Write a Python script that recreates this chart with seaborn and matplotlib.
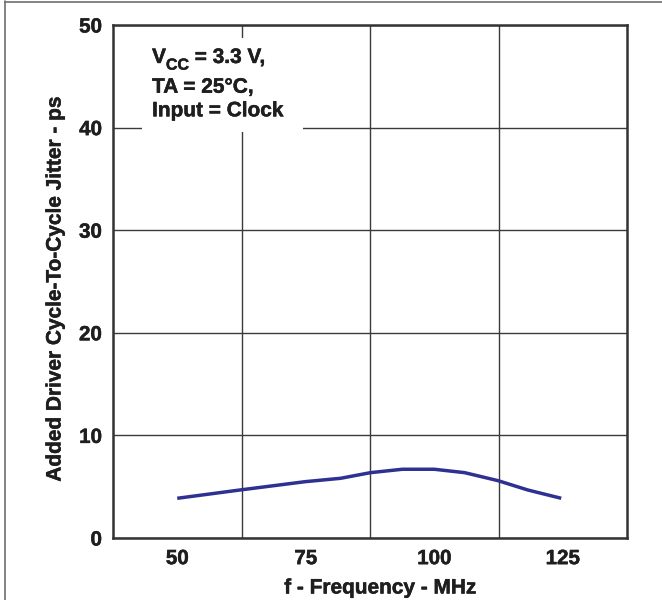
import matplotlib
matplotlib.use("Agg")
import matplotlib.pyplot as plt
from matplotlib.lines import Line2D
from matplotlib.patches import Rectangle
import matplotlib.patheffects as pe
import seaborn as sns
import pandas as pd

# Added jitter vs. clock frequency
freq_mhz = [50.0, 62.2, 74.9, 81.8, 87.6, 93.8, 100.0, 105.9, 112.4, 118.2, 124.7]
jitter_ps = [3.87, 4.68, 5.49, 5.82, 6.37, 6.70, 6.70, 6.37, 5.59, 4.68, 3.87]

x_ticks = [50, 75, 100, 125]
x_grid = [62.5, 87.5, 112.5]
y_ticks = [0, 10, 20, 30, 40, 50]

vcc_parts = ["V", "CC", " = 3.3 V,"]
conditions = ["TA = 25°C,", "Input = Clock"]

sns.set_theme(style="white")
plt.rcParams["font.family"] = ["Liberation Sans", "DejaVu Sans"]
plt.rcParams["font.weight"] = "bold"

ink = "#1e1e1e"
heavy = [pe.withStroke(linewidth=0.35, foreground=ink)]
df = pd.DataFrame({"f": freq_mhz, "j": jitter_ps})

W, H = 662, 600
fig = plt.figure(figsize=(W / 100, H / 100), dpi=100)
ax = fig.add_axes([113 / W, 62 / H, 514 / W, 513 / H])

sns.lineplot(data=df, x="f", y="j", ax=ax, color="#2e3192", linewidth=2.5,
             zorder=3, solid_capstyle="butt")

ax.set_xlim(37.5, 137.5)
ax.set_ylim(0, 50)
ax.set_xticks(x_ticks)
ax.set_yticks(y_ticks)
ax.set_xticks(x_grid, minor=True)
ax.tick_params(axis="both", which="both", length=0, labelsize=14.8,
               labelcolor=ink)
ax.tick_params(axis="x", pad=8)
ax.tick_params(axis="y", pad=8)
for lab in ax.get_xticklabels() + ax.get_yticklabels():
    lab.set_fontweight("bold")
    lab.set_path_effects(heavy)

ax.grid(False)
ax.xaxis.grid(True, which="minor", color="#3a3a3a", linewidth=1.0, zorder=0.5)
ax.yaxis.grid(True, which="major", color="#3a3a3a", linewidth=1.0, zorder=0.5)
ax.set_axisbelow(True)

for s in ax.spines.values():
    s.set_visible(True)
    s.set_color("#333333")
    s.set_linewidth(1.8)

ax.set_xlabel("f - Frequency - MHz", fontsize=15, fontweight="bold",
              color=ink, path_effects=heavy)
ax.set_ylabel("Added Driver Cycle-To-Cycle Jitter - ps", fontsize=15,
              fontweight="bold", color=ink, path_effects=heavy)

# white panel behind the operating conditions
ax.add_patch(Rectangle((43.1, 39.6), 31.4, 9.1, facecolor="white",
                       edgecolor="none", zorder=1.5))

fig.canvas.draw()
renderer = fig.canvas.get_renderer()

# put each axis label's centre at a fixed pixel spot (origin bottom-left)
ax_bb = ax.get_window_extent(renderer)
for axis, (cx, cy) in [(ax.xaxis, (380.5, 12.0)), (ax.yaxis, (55.0, 312.0))]:
    lab = axis.label
    bb = lab.get_window_extent(renderer)
    px, py = lab.get_position()
    start = lab.get_transform().transform((px, py))
    target = (start[0] + cx - (bb.x0 + bb.x1) / 2,
              start[1] + cy - (bb.y0 + bb.y1) / 2)
    ax_xy = ax.transAxes.inverted().transform(target)
    axis.set_label_coords(ax_xy[0], ax_xy[1])
    # keep the same anchoring as measured
    lab.set_position(tuple(ax_xy))

# first line: V with a CC subscript, then the rest of the line
inv = ax.transData.inverted()
x0, y0 = 45.1, 46.30
sizes = [15, 11.5, 15]
drops = [0.0, 0.65, 0.0]
xcur = x0
for part, fs, dy in zip(vcc_parts, sizes, drops):
    t = ax.text(xcur, y0 - dy, part, fontsize=fs, fontweight="bold", color=ink,
                va="baseline", ha="left", zorder=4, path_effects=heavy)
    bb = t.get_window_extent(renderer)
    xcur = inv.transform((bb.x1, bb.y0))[0]

for txt, yb in zip(conditions, [43.40, 41.10]):
    ax.text(x0, yb, txt, fontsize=15, fontweight="bold", color=ink,
            va="baseline", ha="left", zorder=4, path_effects=heavy)

# thin page border on the left and top
fig.add_artist(Line2D([4.5 / W, 4.5 / W], [0, 1 - 1 / H],
                      transform=fig.transFigure, color="#6e6e6e", linewidth=1.2))
fig.add_artist(Line2D([4.5 / W, 1], [1 - 1.5 / H, 1 - 1.5 / H],
                      transform=fig.transFigure, color="#6e6e6e", linewidth=1.2))

fig.savefig("out.png", dpi=100, facecolor="white")
